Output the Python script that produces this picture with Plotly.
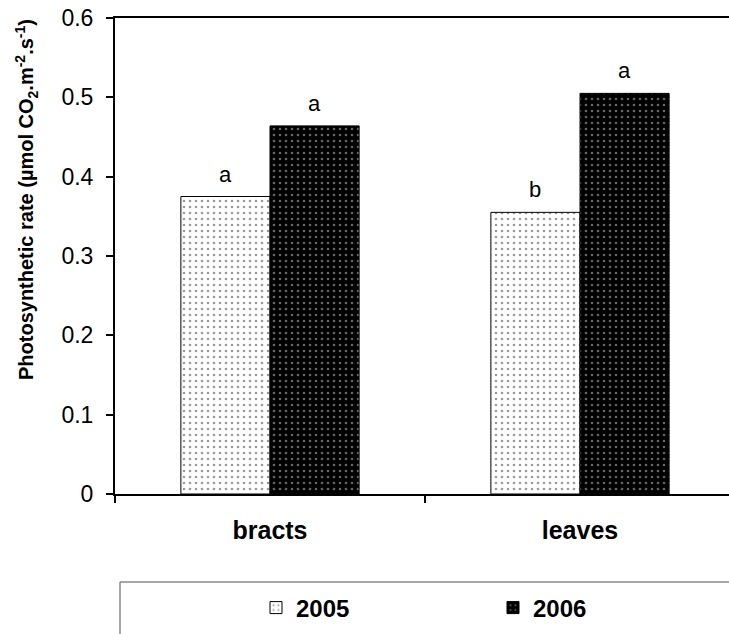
import plotly.graph_objects as go

categories = ["bracts", "leaves"]
years = ["2005", "2006"]
values_2005 = [0.375, 0.355]
values_2006 = [0.464, 0.505]
letters_2005 = ["a", "b"]
letters_2006 = ["a", "a"]
y_ticks = [0, 0.1, 0.2, 0.3, 0.4, 0.5, 0.6]
y_ticktext = ["0", "0.1", "0.2", "0.3", "0.4", "0.5", "0.6"]

FONT = "Liberation Sans, Arial, sans-serif"
W, H = 729, 634
ML, MT, MB = 115, 18, 140
plot_w = W - ML
plot_h = H - MT - MB
bargap = 0.425

fig = go.Figure()
fig.add_trace(go.Bar(
    x=categories, y=values_2005, name=years[0],
    marker=dict(color="white", line=dict(color="black", width=1),
                pattern=dict(shape=".", fgcolor="#333", bgcolor="white", size=6, solidity=0.15)),
))
fig.add_trace(go.Bar(
    x=categories, y=values_2006, name=years[1],
    marker=dict(color="black", line=dict(color="black", width=1),
                pattern=dict(shape=".", fgcolor="#cccccc", bgcolor="black", size=6, solidity=0.15)),
))

# significance letters above bars
half = (1 - bargap) / 4
annotations = []
for i, cat in enumerate(categories):
    for off, vals, lets in ((-half, values_2005, letters_2005), (half, values_2006, letters_2006)):
        annotations.append(dict(x=i + off, y=vals[i], xref="x", yref="y", text=lets[i],
                                showarrow=False, yanchor="bottom", yshift=8,
                                font=dict(family=FONT, size=22, color="black")))

# y axis title
annotations.append(dict(
    x=(26 - ML) / plot_w, y=(H - MB - 200) / plot_h, xref="paper", yref="paper",
    text="<b>Photosynthetic rate (µmol CO<sub>2</sub>.m<sup>-2</sup>.s<sup>-1</sup>)</b>",
    textangle=-90, showarrow=False, xanchor="center", yanchor="middle",
    font=dict(family=FONT, size=20, color="black")))

# legend box lines
box_top = (H - MB - 582) / plot_h
box_left = (120 - ML) / plot_w
shapes = [
    dict(type="line", xref="paper", yref="paper", x0=box_left, x1=1.2, y0=box_top, y1=box_top,
         line=dict(color="#888", width=1.5)),
    dict(type="line", xref="paper", yref="paper", x0=box_left, x1=box_left, y0=box_top, y1=-0.5,
         line=dict(color="#888", width=1.5)),
]

fig.update_layout(
    width=W, height=H,
    margin=dict(l=ML, r=0, t=MT, b=MB, autoexpand=False),
    paper_bgcolor="white", plot_bgcolor="white",
    barmode="group", bargap=bargap, bargroupgap=0,
    font=dict(family=FONT, color="black"),
    showlegend=True,
    legend=dict(orientation="h", x=(256 - ML) / plot_w, xanchor="left",
                y=(H - MB - 608) / plot_h, yanchor="middle",
                entrywidth=192, entrywidthmode="pixels",
                font=dict(family=FONT, size=24, color="black", weight="bold"),
                bgcolor="rgba(0,0,0,0)", itemclick=False),
    annotations=annotations,
    shapes=shapes,
)
fig.update_xaxes(
    type="category", range=[-0.5, 1.5 - 6 / 310],
    showline=True, linecolor="black", linewidth=2, mirror=True,
    ticks="outside", tickson="boundaries", ticklen=7, tickwidth=2, tickcolor="black",
    tickfont=dict(family=FONT, size=25, color="black", weight="bold"),
    ticklabelstandoff=13,
    showgrid=False, zeroline=False,
)
fig.update_yaxes(
    range=[0, 0.6], tickvals=y_ticks, ticktext=y_ticktext,
    showline=True, linecolor="black", linewidth=2,
    ticks="outside", ticklen=7, tickwidth=2, tickcolor="black",
    tickfont=dict(family=FONT, size=23, color="black"),
    ticklabelstandoff=8,
    showgrid=False, zeroline=False,
)

fig.write_html("out.html")
